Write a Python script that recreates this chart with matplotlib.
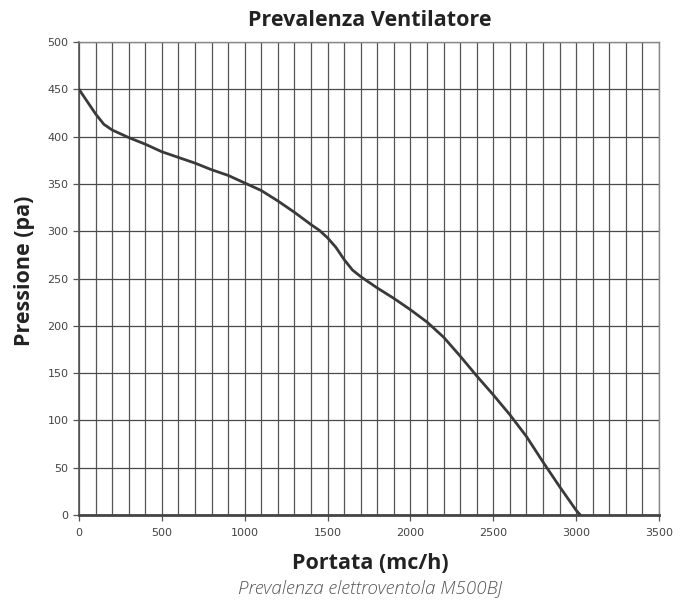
import numpy as np
import matplotlib.pyplot as plt

# fan curve
PORTATA = [0, 50, 100, 150, 200, 300, 400, 500, 600, 700, 800, 900, 1000,
           1100, 1200, 1300, 1400, 1450, 1500, 1550, 1600, 1650, 1700, 1800,
           1900, 2000, 2100, 2200, 2300, 2400, 2500, 2600, 2700, 2800, 2900,
           3000, 3025]
PRESSIONE = [450, 437, 424, 413, 407, 399, 392, 384, 378, 372, 365, 359, 351,
             343, 332, 320, 307, 301, 293, 283, 270, 259, 252, 240,
             229, 217, 204, 188, 168, 147, 127, 106, 83, 56, 30,
             5, 0]

X_TICKS = [0, 500, 1000, 1500, 2000, 2500, 3000, 3500]
Y_TICKS = [0, 50, 100, 150, 200, 250, 300, 350, 400, 450, 500]

fig = plt.figure(figsize=(6.89, 6.03), dpi=100)
ax = fig.add_axes([0.1147, 0.1459, 0.8418, 0.7844])

ax.plot(PORTATA, PRESSIONE, color="#3a3a3a", lw=2.0, zorder=3,
        solid_joinstyle="round")

ax.set_xlim(0, 3500)
ax.set_ylim(0, 500)
ax.set_xticks(X_TICKS)
ax.set_yticks(Y_TICKS)
ax.set_xticks(np.arange(0, 3501, 100), minor=True)

ax.grid(True, which="major", axis="y", color="#4a4a4a", lw=0.9)
ax.grid(True, which="both", axis="x", color="#555555", lw=0.9)
ax.set_axisbelow(True)

ax.tick_params(axis="both", which="major", direction="out", length=4,
               width=0.9, color="#555", labelsize=8, labelcolor="#444")
ax.tick_params(axis="x", which="minor", length=0)
ax.tick_params(axis="x", pad=5)

for side in ("top", "right"):
    ax.spines[side].set_color("#888")
    ax.spines[side].set_linewidth(1.0)
ax.spines["left"].set_color("#555")
ax.spines["left"].set_linewidth(1.2)
ax.spines["bottom"].set_color("#444")
ax.spines["bottom"].set_linewidth(2.0)

for lab in ax.get_xticklabels() + ax.get_yticklabels():
    lab.set_family("DejaVu Sans")

fig.text(0.537, 0.966, "Prevalenza Ventilatore", ha="center", va="center",
         fontsize=15.5, fontweight="bold", family="Open Sans", color="#222")
fig.text(0.036, 0.551, "Pressione (pa)", ha="center", va="center",
         rotation=90, fontsize=15.5, fontweight="bold", family="Open Sans",
         color="#222")
fig.text(0.537, 0.065, "Portata (mc/h)", ha="center", va="center",
         fontsize=15.5, fontweight="bold", family="Open Sans", color="#222")
fig.text(0.537, 0.025, "Prevalenza elettroventola M500BJ", ha="center",
         va="center", fontsize=13.5, style="italic", family="Open Sans",
         color="#555", fontweight="light")

fig.savefig("out.png", dpi=100)
